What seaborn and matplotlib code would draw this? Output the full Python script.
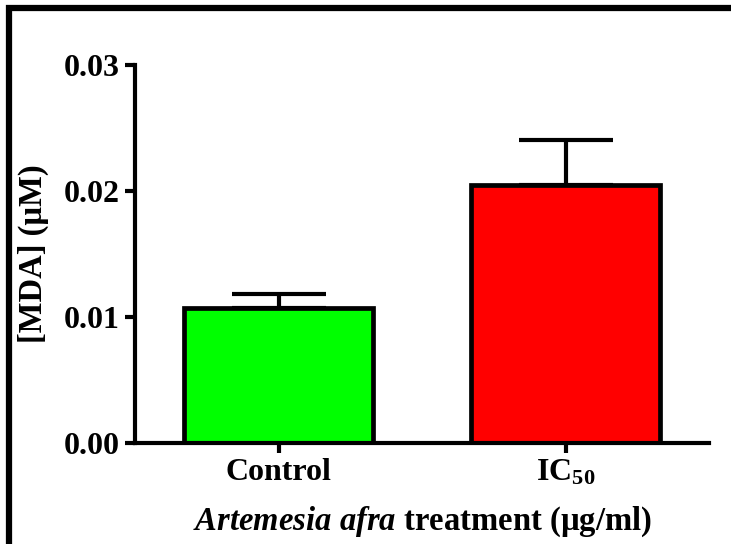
import matplotlib
matplotlib.use("Agg")
import matplotlib.pyplot as plt
import matplotlib.patches as mpatches
import seaborn as sns
import numpy as np

# =========================
# DATA
# =========================
groups = ["Control", "IC$_{50}$"]
mda_mean = [0.0107, 0.0205]
mda_sem = [0.0011, 0.0036]
bar_colors = ["#00FF00", "#FF0000"]

# =========================
# STYLE
# =========================
sns.set_style("ticks")
plt.rcParams["font.family"] = ["Liberation Serif", "DejaVu Serif"]
plt.rcParams["font.weight"] = "bold"
plt.rcParams["text.color"] = "black"
plt.rcParams["axes.labelcolor"] = "black"
plt.rcParams["xtick.color"] = "black"
plt.rcParams["ytick.color"] = "black"
plt.rcParams["axes.edgecolor"] = "black"
plt.rcParams["mathtext.fontset"] = "custom"
plt.rcParams["mathtext.rm"] = "Liberation Serif:bold"
plt.rcParams["mathtext.bf"] = "Liberation Serif:bold"
plt.rcParams["mathtext.it"] = "Liberation Serif:italic:bold"
plt.rcParams["mathtext.default"] = "bf"

fig = plt.figure(figsize=(7.31, 5.44), dpi=100)
ax = fig.add_axes([0.185, 0.186, 0.785, 0.694])

sns.barplot(
    x=groups, y=mda_mean, hue=groups, palette=bar_colors, legend=False,
    saturation=1, width=0.66, edgecolor="black", linewidth=3.4,
    errorbar=None, ax=ax, zorder=2
)

ax.errorbar(
    np.arange(len(groups)), mda_mean,
    yerr=[np.zeros(len(groups)), mda_sem],
    fmt="none", ecolor="black", elinewidth=3, capsize=34, capthick=3, zorder=1
)

ax.set_xlim(-0.5, 1.5)
ax.set_ylim(0, 0.03)
ax.set_yticks([0.0, 0.01, 0.02, 0.03])
ax.set_yticklabels(["0.00", "0.01", "0.02", "0.03"])

sns.despine(ax=ax)
for s in ["left", "bottom"]:
    ax.spines[s].set_linewidth(3)
    ax.spines[s].set_color("black")
ax.tick_params(axis="both", width=3, length=7, labelsize=23, pad=4,
               color="black", labelcolor="black")

ax.set_ylabel("[MDA] (µM)", fontsize=23.5, fontweight="bold", labelpad=11)
ax.set_xlabel(r"$\mathit{Artemesia\ afra}$ treatment (µg/ml)", fontsize=23.5,
              fontweight="bold", labelpad=12)

# frame around the whole figure (cut at right/bottom like the source)
frame = mpatches.Rectangle((0.012, -0.05), 1.1, 1.035, transform=fig.transFigure,
                           fill=False, edgecolor="black", linewidth=4.5, clip_on=False)
fig.patches.append(frame)

plt.savefig("out.png", dpi=100)
